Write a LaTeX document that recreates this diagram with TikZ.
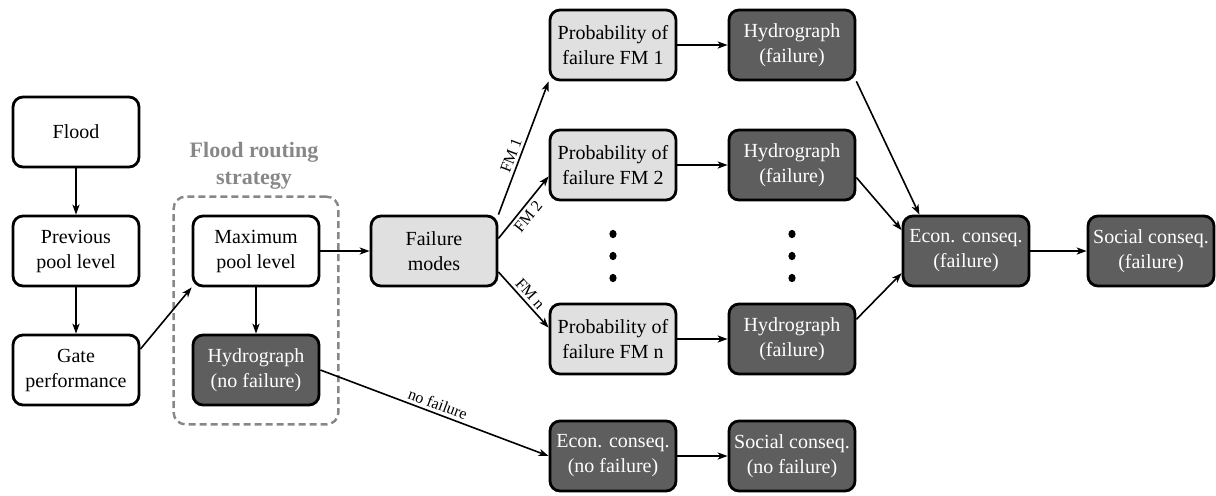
\documentclass[tikz,border=0pt]{standalone}
\usepackage{fontspec}
\setmainfont{Liberation Serif}
\usetikzlibrary{arrows.meta,fit}
\definecolor{boxlight}{gray}{0.88}
\definecolor{boxdark}{gray}{0.37}
\definecolor{routegray}{gray}{0.53}
\begin{document}
\begin{tikzpicture}[x=0.5pt, y=-0.5pt,
  box/.style={draw, line width=1.4pt, rounded corners=5pt, minimum width=63pt,
    minimum height=35pt, inner sep=2pt, align=center,
    font=\fontsize{10}{12.5}\selectfont},
  whitebox/.style={box, fill=white},
  lightbox/.style={box, fill=boxlight},
  darkbox/.style={box, fill=boxdark, text=white},
  >={Stealth[length=5pt, width=3.6pt, inset=1.4pt]},
  link/.style={->, line width=0.8pt},
  edgelabel/.style={font=\footnotesize, sloped, inner sep=1.5pt}]
\useasboundingbox (0,0) rectangle (1216,495);
\node[whitebox] (flood) at (76,132) {Flood};
\node[whitebox] (prev) at (76,251) {Previous\\pool level};
\node[whitebox] (gate) at (76,370) {Gate\\performance};
\node[whitebox] (maxpool) at (256,251) {Maximum\\pool level};
\node[darkbox] (hydronf) at (256,370) {Hydrograph\\(no failure)};
\node[lightbox] (fmodes) at (434,251) {Failure\\modes};
\node[lightbox] (prob1) at (613,45) {Probability of\\failure FM 1};
\node[lightbox] (prob2) at (613,165) {Probability of\\failure FM 2};
\node[lightbox] (probn) at (613,339) {Probability of\\failure FM n};
\node[darkbox] (hyd1) at (792,45) {Hydrograph\\(failure)};
\node[darkbox] (hyd2) at (792,165) {Hydrograph\\(failure)};
\node[darkbox] (hydn) at (792,339) {Hydrograph\\(failure)};
\node[darkbox] (econf) at (966,251) {Econ. conseq.\\(failure)};
\node[darkbox] (socialf) at (1151,251) {Social conseq.\\(failure)};
\node[darkbox] (econnf) at (613,456) {Econ. conseq.\\(no failure)};
\node[darkbox] (socialnf) at (792,456) {Social conseq.\\(no failure)};
% routing strategy frame
\node[draw=routegray, dashed, dash pattern=on 3.5pt off 2pt, line width=1.2pt,
  rounded corners=6pt, inner sep=9pt, fit=(maxpool)(hydronf)] (routing) {};
\node[font=\fontsize{11}{13.5}\selectfont\bfseries, text=routegray, align=center]
  (routinglabel) at (254,166) {Flood routing\\strategy};
% dots
\foreach \x in {613,792}
  \foreach \y in {234,256,278}
    \fill (\x,\y) ellipse[x radius=1.8pt, y radius=2.1pt];
\draw[link] (flood)--(prev);
\draw[link] (prev)--(gate);
\draw[link] (gate.18)--(maxpool.south west);
\draw[link] (maxpool)--(hydronf);
\draw[link] (maxpool)--(fmodes);
\draw[link] (fmodes.north east)--node[edgelabel, pos=0.42, above] {FM 1} (prob1.south west);
\draw[link] (fmodes.11)--node[edgelabel, pos=0.45, below] {FM 2} (prob2.190);
\draw[link] (fmodes.-18)--node[edgelabel, pos=0.5, above] {FM n} (probn.170);
\draw[link] (prob1)--(hyd1);
\draw[link] (prob2)--(hyd2);
\draw[link] (probn)--(hydn);
\draw[link] (hyd1.south east)--(econf.142);
\draw[link] (hyd2.-11)--(econf.162);
\draw[link] (hydn.17)--(econf.199);
\draw[link] (econf)--(socialf);
\draw[link] (hydronf.east)--node[edgelabel, pos=0.5, above] {no failure} (econnf.west);
\draw[link] (econnf)--(socialnf);
\end{tikzpicture}
\end{document}
